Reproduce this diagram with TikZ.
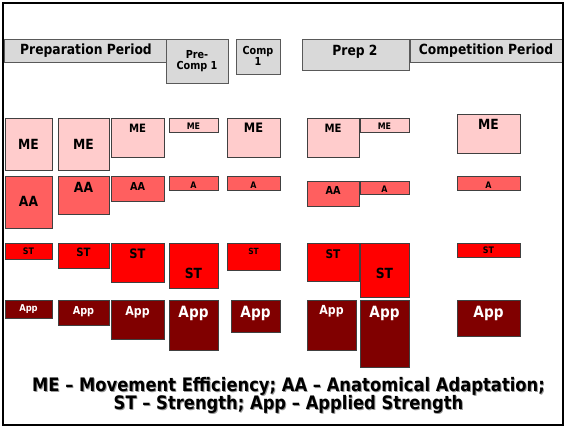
\documentclass[tikz,border=0pt]{standalone}
\usepackage{fontspec}
\setmainfont[FakeStretch=0.88]{DejaVu Sans}
\usetikzlibrary{fit}
\definecolor{meC}{HTML}{FFCCCC}
\definecolor{aaC}{HTML}{FF5F5F}
\definecolor{stC}{HTML}{FF0000}
\definecolor{appC}{HTML}{800000}
\definecolor{hdC}{HTML}{D9D9D9}
\newcommand\myfs[1]{\fontsize{#1}{#1}\selectfont}
\tikzset{
  blkbase/.style={draw=black!75, line width=0.9pt, inner sep=0pt, outer sep=0pt},
  me/.style={blkbase, fill=meC},
  aa/.style={blkbase, fill=aaC},
  st/.style={blkbase, fill=stC},
  app/.style={blkbase, fill=appC},
  lbl/.style={inner sep=0pt, text height=0.72em, text depth=0pt},
  meL/.style={text=black},
  aaL/.style={text=black},
  stL/.style={text=black},
  appL/.style={text=white},
  hdr/.style={draw=black!65, line width=0.9pt, fill=hdC, inner sep=0pt, outer sep=0pt},
  hdrT/.style={inner sep=0pt, align=center, font=\bfseries},
}
% name, x1, y1, x2, y2, style, label y, font size, text
\newcommand\blk[9]{%
  \node[#6, fit={(#2,#3) (#4,#5)}] (#1) {};
  \node[lbl, #6L, font=\myfs{#8}\bfseries] (#1t) at ({(#2+#4)/2},#7) {#9};
}
\begin{document}
\begin{tikzpicture}[x=1pt,y=-1pt]
\useasboundingbox (0,0) rectangle (566,428);
\fill[white] (0,0) rectangle (566,428);

% headers
\node[hdr, fit={(4,39) (166,62)}] (prep) {};
\node[hdrT, font=\myfs{14}\bfseries] (prepT) at (86,51) {Preparation Period};
\node[hdr, fit={(166,39) (228,83)}] (pc) {};
\node[hdrT, font=\myfs{11}\bfseries, text depth=0pt] (pcT) at (197,60) {\baselineskip=14pt Pre-\\Comp 1};
\node[hdr, fit={(236,39) (280,74)}] (c1) {};
\node[hdrT, font=\myfs{11}\bfseries] (c1T) at (258,56) {\baselineskip=13pt Comp\\1};
\node[hdr, fit={(302,39) (409,70)}] (p2) {};
\node[hdrT, font=\myfs{14}\bfseries] (p2T) at (355,52) {Prep 2};
\node[hdr, fit={(410,39) (562,62)}] (cp) {};
\node[hdrT, font=\myfs{14}\bfseries] (cpT) at (486,51) {Competition Period};

% ME row
\blk{meA}{5}{118}{52}{170}{me}{146}{14}{ME}
\blk{meB}{58}{118}{109}{170}{me}{146}{14}{ME}
\blk{meC}{111}{118}{164}{157}{me}{129}{11.5}{ME}
\blk{meD}{169}{118}{218}{132}{me}{126}{9}{ME}
\blk{meE}{227}{118}{280}{157}{me}{129}{13}{ME}
\blk{meF}{307}{118}{359}{157}{me}{129}{11.5}{ME}
\blk{meG}{360}{118}{409}{132}{me}{126}{9}{ME}
\blk{meH}{457}{114}{520}{153}{me}{126}{14}{ME}

% AA row
\blk{aaA}{5}{176}{52}{228}{aa}{203}{14}{AA}
\blk{aaB}{58}{176}{109}{214}{aa}{189}{14}{AA}
\blk{aaC}{111}{176}{164}{201}{aa}{187}{11}{AA}
\blk{aaD}{169}{176}{218}{190}{aa}{185}{9}{A}
\blk{aaE}{227}{176}{280}{190}{aa}{185}{9}{A}
\blk{aaF}{307}{181}{359}{206}{aa}{191}{11}{AA}
\blk{aaG}{360}{181}{409}{194}{aa}{189}{9}{A}
\blk{aaH}{457}{176}{520}{190}{aa}{185}{9}{A}

% ST row
\blk{stA}{5}{243}{52}{259}{st}{251}{9}{ST}
\blk{stB}{58}{243}{109}{268}{st}{253}{11.5}{ST}
\blk{stC}{111}{243}{164}{282}{st}{255}{13}{ST}
\blk{stD}{169}{243}{218}{288}{st}{275}{14}{ST}
\blk{stE}{227}{243}{280}{270}{st}{251}{8.5}{ST}
\blk{stF}{307}{243}{359}{281}{st}{255}{12}{ST}
\blk{stG}{360}{243}{409}{297}{st}{275}{14}{ST}
\blk{stH}{457}{243}{520}{257}{st}{250}{9}{ST}

% App row
\blk{apA}{5}{300}{52}{318}{app}{308}{9.5}{App}
\blk{apB}{58}{300}{109}{325}{app}{311}{11}{App}
\blk{apC}{111}{300}{164}{339}{app}{312}{12.5}{App}
\blk{apD}{169}{300}{218}{350}{app}{314}{15.5}{App}
\blk{apE}{231}{300}{280}{332}{app}{314}{15.5}{App}
\blk{apF}{307}{300}{356}{350}{app}{311}{12.5}{App}
\blk{apG}{360}{300}{409}{367}{app}{314}{15.5}{App}
\blk{apH}{457}{300}{520}{336}{app}{314}{15.5}{App}

% legend
\node[hdrT, text=black!40, font=\myfs{18.6}\bfseries] (legS) at (289.4,396.4)
  {\baselineskip=24pt ME -- Movement Efficiency; AA -- Anatomical Adaptation;\\ST -- Strength; App -- Applied Strength};
\node[hdrT, text=black, font=\myfs{18.6}\bfseries] (leg) at (288.5,395.5)
  {\baselineskip=24pt ME -- Movement Efficiency; AA -- Anatomical Adaptation;\\ST -- Strength; App -- Applied Strength};

% frame
\node[draw=black, line width=2.5pt, inner sep=0pt, fit={(3,3) (563,425)}] (frame) {};
\end{tikzpicture}
\end{document}
